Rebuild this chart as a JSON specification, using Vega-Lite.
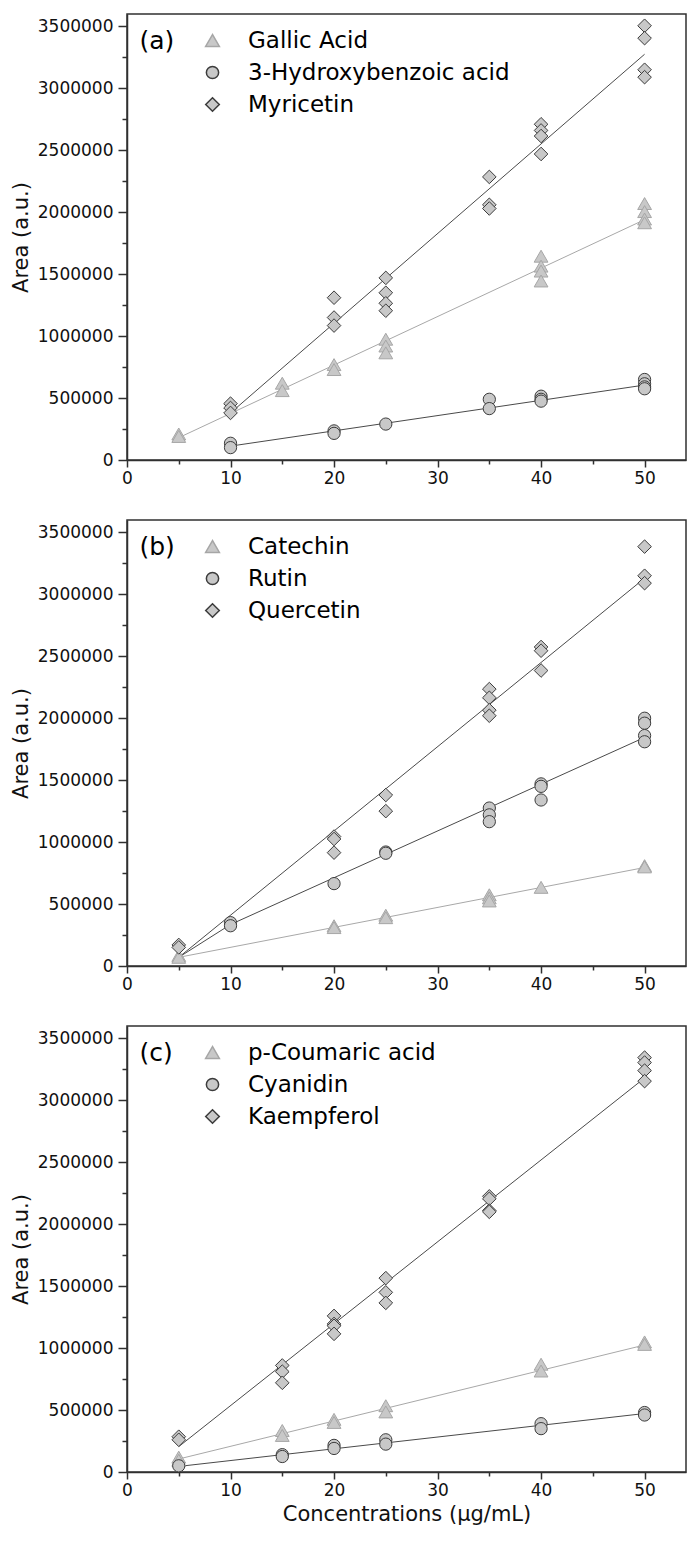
{
  "$schema": "https://vega.github.io/schema/vega-lite/v6.json",
  "padding": {"left": 9, "top": 13, "right": 0, "bottom": 5},
  "autosize": {"type": "pad"},
  "background": "white",
  "spacing": 60,
  "bounds": "flush",
  "config": {
    "font": "DejaVu Sans",
    "view": {"stroke": "#303030", "strokeWidth": 1.5},
    "axis": {"labelFont": "DejaVu Sans", "labelFontSize": 17, "labelColor": "#111111", "titleFont": "DejaVu Sans", "titleFontSize": 21, "titleFontWeight": "normal", "titleColor": "#111111", "domainColor": "#303030", "domainWidth": 1.5, "tickColor": "#303030", "tickWidth": 1.5, "grid": false, "labelFlush": false, "labelOverlap": false},
    "legend": {"labelFont": "DejaVu Sans", "labelFontSize": 23, "labelColor": "#000000", "labelLimit": 400, "padding": 0}
  },
  "datasets": {
    "pts": [
      {"panel": "a", "series": "Gallic Acid", "conc": 5, "area": 210000},
      {"panel": "a", "series": "Gallic Acid", "conc": 5, "area": 190000},
      {"panel": "a", "series": "Gallic Acid", "conc": 15, "area": 620000},
      {"panel": "a", "series": "Gallic Acid", "conc": 15, "area": 560000},
      {"panel": "a", "series": "Gallic Acid", "conc": 20, "area": 770000},
      {"panel": "a", "series": "Gallic Acid", "conc": 20, "area": 730000},
      {"panel": "a", "series": "Gallic Acid", "conc": 25, "area": 975000},
      {"panel": "a", "series": "Gallic Acid", "conc": 25, "area": 920000},
      {"panel": "a", "series": "Gallic Acid", "conc": 25, "area": 865000},
      {"panel": "a", "series": "Gallic Acid", "conc": 40, "area": 1645000},
      {"panel": "a", "series": "Gallic Acid", "conc": 40, "area": 1565000},
      {"panel": "a", "series": "Gallic Acid", "conc": 40, "area": 1525000},
      {"panel": "a", "series": "Gallic Acid", "conc": 40, "area": 1445000},
      {"panel": "a", "series": "Gallic Acid", "conc": 50, "area": 2070000},
      {"panel": "a", "series": "Gallic Acid", "conc": 50, "area": 2005000},
      {"panel": "a", "series": "Gallic Acid", "conc": 50, "area": 1945000},
      {"panel": "a", "series": "Gallic Acid", "conc": 50, "area": 1915000},
      {"panel": "a", "series": "3-Hydroxybenzoic acid", "conc": 10, "area": 135000},
      {"panel": "a", "series": "3-Hydroxybenzoic acid", "conc": 10, "area": 100000},
      {"panel": "a", "series": "3-Hydroxybenzoic acid", "conc": 20, "area": 235000},
      {"panel": "a", "series": "3-Hydroxybenzoic acid", "conc": 20, "area": 215000},
      {"panel": "a", "series": "3-Hydroxybenzoic acid", "conc": 25, "area": 290000},
      {"panel": "a", "series": "3-Hydroxybenzoic acid", "conc": 35, "area": 490000},
      {"panel": "a", "series": "3-Hydroxybenzoic acid", "conc": 35, "area": 415000},
      {"panel": "a", "series": "3-Hydroxybenzoic acid", "conc": 40, "area": 515000},
      {"panel": "a", "series": "3-Hydroxybenzoic acid", "conc": 40, "area": 490000},
      {"panel": "a", "series": "3-Hydroxybenzoic acid", "conc": 40, "area": 475000},
      {"panel": "a", "series": "3-Hydroxybenzoic acid", "conc": 50, "area": 650000},
      {"panel": "a", "series": "3-Hydroxybenzoic acid", "conc": 50, "area": 615000},
      {"panel": "a", "series": "3-Hydroxybenzoic acid", "conc": 50, "area": 590000},
      {"panel": "a", "series": "3-Hydroxybenzoic acid", "conc": 50, "area": 575000},
      {"panel": "a", "series": "Myricetin", "conc": 10, "area": 455000},
      {"panel": "a", "series": "Myricetin", "conc": 10, "area": 420000},
      {"panel": "a", "series": "Myricetin", "conc": 10, "area": 380000},
      {"panel": "a", "series": "Myricetin", "conc": 20, "area": 1310000},
      {"panel": "a", "series": "Myricetin", "conc": 20, "area": 1150000},
      {"panel": "a", "series": "Myricetin", "conc": 20, "area": 1085000},
      {"panel": "a", "series": "Myricetin", "conc": 25, "area": 1470000},
      {"panel": "a", "series": "Myricetin", "conc": 25, "area": 1350000},
      {"panel": "a", "series": "Myricetin", "conc": 25, "area": 1265000},
      {"panel": "a", "series": "Myricetin", "conc": 25, "area": 1205000},
      {"panel": "a", "series": "Myricetin", "conc": 35, "area": 2285000},
      {"panel": "a", "series": "Myricetin", "conc": 35, "area": 2060000},
      {"panel": "a", "series": "Myricetin", "conc": 35, "area": 2030000},
      {"panel": "a", "series": "Myricetin", "conc": 40, "area": 2710000},
      {"panel": "a", "series": "Myricetin", "conc": 40, "area": 2660000},
      {"panel": "a", "series": "Myricetin", "conc": 40, "area": 2615000},
      {"panel": "a", "series": "Myricetin", "conc": 40, "area": 2470000},
      {"panel": "a", "series": "Myricetin", "conc": 50, "area": 3505000},
      {"panel": "a", "series": "Myricetin", "conc": 50, "area": 3405000},
      {"panel": "a", "series": "Myricetin", "conc": 50, "area": 3150000},
      {"panel": "a", "series": "Myricetin", "conc": 50, "area": 3090000},
      {"panel": "b", "series": "Catechin", "conc": 5, "area": 85000},
      {"panel": "b", "series": "Catechin", "conc": 5, "area": 70000},
      {"panel": "b", "series": "Catechin", "conc": 20, "area": 325000},
      {"panel": "b", "series": "Catechin", "conc": 20, "area": 310000},
      {"panel": "b", "series": "Catechin", "conc": 25, "area": 410000},
      {"panel": "b", "series": "Catechin", "conc": 25, "area": 390000},
      {"panel": "b", "series": "Catechin", "conc": 35, "area": 575000},
      {"panel": "b", "series": "Catechin", "conc": 35, "area": 550000},
      {"panel": "b", "series": "Catechin", "conc": 35, "area": 525000},
      {"panel": "b", "series": "Catechin", "conc": 40, "area": 635000},
      {"panel": "b", "series": "Catechin", "conc": 50, "area": 810000},
      {"panel": "b", "series": "Catechin", "conc": 50, "area": 800000},
      {"panel": "b", "series": "Rutin", "conc": 10, "area": 350000},
      {"panel": "b", "series": "Rutin", "conc": 10, "area": 325000},
      {"panel": "b", "series": "Rutin", "conc": 20, "area": 665000},
      {"panel": "b", "series": "Rutin", "conc": 25, "area": 920000},
      {"panel": "b", "series": "Rutin", "conc": 25, "area": 910000},
      {"panel": "b", "series": "Rutin", "conc": 35, "area": 1275000},
      {"panel": "b", "series": "Rutin", "conc": 35, "area": 1220000},
      {"panel": "b", "series": "Rutin", "conc": 35, "area": 1165000},
      {"panel": "b", "series": "Rutin", "conc": 40, "area": 1470000},
      {"panel": "b", "series": "Rutin", "conc": 40, "area": 1450000},
      {"panel": "b", "series": "Rutin", "conc": 40, "area": 1340000},
      {"panel": "b", "series": "Rutin", "conc": 50, "area": 2000000},
      {"panel": "b", "series": "Rutin", "conc": 50, "area": 1960000},
      {"panel": "b", "series": "Rutin", "conc": 50, "area": 1860000},
      {"panel": "b", "series": "Rutin", "conc": 50, "area": 1810000},
      {"panel": "b", "series": "Quercetin", "conc": 5, "area": 170000},
      {"panel": "b", "series": "Quercetin", "conc": 5, "area": 150000},
      {"panel": "b", "series": "Quercetin", "conc": 20, "area": 1045000},
      {"panel": "b", "series": "Quercetin", "conc": 20, "area": 1025000},
      {"panel": "b", "series": "Quercetin", "conc": 20, "area": 915000},
      {"panel": "b", "series": "Quercetin", "conc": 25, "area": 1380000},
      {"panel": "b", "series": "Quercetin", "conc": 25, "area": 1250000},
      {"panel": "b", "series": "Quercetin", "conc": 35, "area": 2235000},
      {"panel": "b", "series": "Quercetin", "conc": 35, "area": 2165000},
      {"panel": "b", "series": "Quercetin", "conc": 35, "area": 2065000},
      {"panel": "b", "series": "Quercetin", "conc": 35, "area": 2020000},
      {"panel": "b", "series": "Quercetin", "conc": 40, "area": 2575000},
      {"panel": "b", "series": "Quercetin", "conc": 40, "area": 2545000},
      {"panel": "b", "series": "Quercetin", "conc": 40, "area": 2385000},
      {"panel": "b", "series": "Quercetin", "conc": 50, "area": 3385000},
      {"panel": "b", "series": "Quercetin", "conc": 50, "area": 3150000},
      {"panel": "b", "series": "Quercetin", "conc": 50, "area": 3090000},
      {"panel": "c", "series": "p-Coumaric acid", "conc": 5, "area": 120000},
      {"panel": "c", "series": "p-Coumaric acid", "conc": 5, "area": 95000},
      {"panel": "c", "series": "p-Coumaric acid", "conc": 15, "area": 335000},
      {"panel": "c", "series": "p-Coumaric acid", "conc": 15, "area": 295000},
      {"panel": "c", "series": "p-Coumaric acid", "conc": 20, "area": 425000},
      {"panel": "c", "series": "p-Coumaric acid", "conc": 20, "area": 400000},
      {"panel": "c", "series": "p-Coumaric acid", "conc": 25, "area": 535000},
      {"panel": "c", "series": "p-Coumaric acid", "conc": 25, "area": 485000},
      {"panel": "c", "series": "p-Coumaric acid", "conc": 40, "area": 870000},
      {"panel": "c", "series": "p-Coumaric acid", "conc": 40, "area": 815000},
      {"panel": "c", "series": "p-Coumaric acid", "conc": 50, "area": 1050000},
      {"panel": "c", "series": "p-Coumaric acid", "conc": 50, "area": 1030000},
      {"panel": "c", "series": "Cyanidin", "conc": 5, "area": 50000},
      {"panel": "c", "series": "Cyanidin", "conc": 15, "area": 140000},
      {"panel": "c", "series": "Cyanidin", "conc": 15, "area": 125000},
      {"panel": "c", "series": "Cyanidin", "conc": 20, "area": 215000},
      {"panel": "c", "series": "Cyanidin", "conc": 20, "area": 190000},
      {"panel": "c", "series": "Cyanidin", "conc": 25, "area": 260000},
      {"panel": "c", "series": "Cyanidin", "conc": 25, "area": 225000},
      {"panel": "c", "series": "Cyanidin", "conc": 40, "area": 390000},
      {"panel": "c", "series": "Cyanidin", "conc": 40, "area": 350000},
      {"panel": "c", "series": "Cyanidin", "conc": 50, "area": 480000},
      {"panel": "c", "series": "Cyanidin", "conc": 50, "area": 460000},
      {"panel": "c", "series": "Kaempferol", "conc": 5, "area": 285000},
      {"panel": "c", "series": "Kaempferol", "conc": 5, "area": 260000},
      {"panel": "c", "series": "Kaempferol", "conc": 15, "area": 860000},
      {"panel": "c", "series": "Kaempferol", "conc": 15, "area": 810000},
      {"panel": "c", "series": "Kaempferol", "conc": 15, "area": 720000},
      {"panel": "c", "series": "Kaempferol", "conc": 20, "area": 1260000},
      {"panel": "c", "series": "Kaempferol", "conc": 20, "area": 1195000},
      {"panel": "c", "series": "Kaempferol", "conc": 20, "area": 1180000},
      {"panel": "c", "series": "Kaempferol", "conc": 20, "area": 1115000},
      {"panel": "c", "series": "Kaempferol", "conc": 25, "area": 1565000},
      {"panel": "c", "series": "Kaempferol", "conc": 25, "area": 1450000},
      {"panel": "c", "series": "Kaempferol", "conc": 25, "area": 1365000},
      {"panel": "c", "series": "Kaempferol", "conc": 35, "area": 2225000},
      {"panel": "c", "series": "Kaempferol", "conc": 35, "area": 2205000},
      {"panel": "c", "series": "Kaempferol", "conc": 35, "area": 2110000},
      {"panel": "c", "series": "Kaempferol", "conc": 35, "area": 2100000},
      {"panel": "c", "series": "Kaempferol", "conc": 50, "area": 3345000},
      {"panel": "c", "series": "Kaempferol", "conc": 50, "area": 3305000},
      {"panel": "c", "series": "Kaempferol", "conc": 50, "area": 3240000},
      {"panel": "c", "series": "Kaempferol", "conc": 50, "area": 3155000}
    ],
    "fits": [
      {"panel": "a", "series": "Gallic Acid", "conc": 5, "area": 180000},
      {"panel": "a", "series": "Gallic Acid", "conc": 50, "area": 1940000},
      {"panel": "a", "series": "3-Hydroxybenzoic acid", "conc": 10, "area": 112000},
      {"panel": "a", "series": "3-Hydroxybenzoic acid", "conc": 50, "area": 605000},
      {"panel": "a", "series": "Myricetin", "conc": 10, "area": 380000},
      {"panel": "a", "series": "Myricetin", "conc": 50, "area": 3275000},
      {"panel": "b", "series": "Catechin", "conc": 5, "area": 70000},
      {"panel": "b", "series": "Catechin", "conc": 50, "area": 795000},
      {"panel": "b", "series": "Rutin", "conc": 5, "area": 70000},
      {"panel": "b", "series": "Rutin", "conc": 10, "area": 335000},
      {"panel": "b", "series": "Rutin", "conc": 50, "area": 1845000},
      {"panel": "b", "series": "Quercetin", "conc": 5, "area": 70000},
      {"panel": "b", "series": "Quercetin", "conc": 50, "area": 3130000},
      {"panel": "c", "series": "p-Coumaric acid", "conc": 5, "area": 105000},
      {"panel": "c", "series": "p-Coumaric acid", "conc": 50, "area": 1025000},
      {"panel": "c", "series": "Cyanidin", "conc": 5, "area": 45000},
      {"panel": "c", "series": "Cyanidin", "conc": 50, "area": 472000},
      {"panel": "c", "series": "Kaempferol", "conc": 5, "area": 205000},
      {"panel": "c", "series": "Kaempferol", "conc": 50, "area": 3180000}
    ]
  },
  "vconcat": [
    {
      "width": 559, "height": 446,
      "layer": [
        {
          "data": {"name": "fits"},
          "transform": [{"filter": "datum.panel === 'a' && datum.series === 'Gallic Acid'"}],
          "mark": {"type": "line", "stroke": "#a8a8a8", "strokeWidth": 1},
          "encoding": {
            "x": {"field": "conc", "type": "quantitative", "scale": {"domain": [0, 54], "nice": false, "zero": false}, "axis": {"orient": "bottom", "values": [5, 15, 25, 35, 45], "tickSize": 4, "labels": false, "domain": false, "title": null}},
            "y": {"field": "area", "type": "quantitative", "scale": {"domain": [0, 3600000], "nice": false}, "axis": {"orient": "left", "values": [250000, 750000, 1250000, 1750000, 2250000, 2750000, 3250000], "tickSize": 5, "labels": false, "domain": false, "title": null}}
          }
        },
        {
          "data": {"name": "fits"},
          "transform": [{"filter": "datum.panel === 'a' && datum.series !== 'Gallic Acid'"}],
          "mark": {"type": "line", "stroke": "#4a4a4a", "strokeWidth": 1},
          "encoding": {
            "x": {"field": "conc", "type": "quantitative", "axis": null},
            "y": {"field": "area", "type": "quantitative", "axis": null},
            "detail": {"field": "series"}
          }
        },
        {
          "data": {"name": "pts"},
          "transform": [{"filter": "datum.panel === 'a'"}],
          "mark": {"type": "point", "filled": false, "fill": "#c8c8c8", "fillOpacity": 1, "opacity": 1, "strokeWidth": 1},
          "encoding": {
            "x": {"field": "conc", "type": "quantitative", "axis": {"orient": "bottom", "values": [0, 10, 20, 30, 40, 50], "tickSize": 7, "labelPadding": 3, "title": null}},
            "y": {"field": "area", "type": "quantitative", "axis": {"orient": "left", "values": [0, 500000, 1000000, 1500000, 2000000, 2500000, 3000000, 3500000], "format": "d", "tickSize": 9, "labelPadding": 5, "title": "Area (a.u.)", "titlePadding": 6}},
            "shape": {"field": "series", "type": "nominal", "scale": {"domain": ["Gallic Acid", "3-Hydroxybenzoic acid", "Myricetin"], "range": ["triangle-up", "circle", "diamond"]}, "legend": {"title": null, "orient": "none", "legendX": 74, "legendY": 15, "labelOffset": 24, "rowPadding": 8}},
            "stroke": {"field": "series", "type": "nominal", "scale": {"domain": ["Gallic Acid", "3-Hydroxybenzoic acid", "Myricetin"], "range": ["#a6a6a6", "#3c3c3c", "#3c3c3c"]}, "legend": {"title": null, "orient": "none", "legendX": 74, "legendY": 15, "labelOffset": 24, "rowPadding": 8}},
            "size": {"field": "series", "type": "nominal", "scale": {"type": "ordinal", "domain": ["Gallic Acid", "3-Hydroxybenzoic acid", "Myricetin"], "range": [190, 150, 185]}, "legend": {"title": null, "orient": "none", "legendX": 74, "legendY": 15, "labelOffset": 24, "rowPadding": 8}}
          }
        },
        {
          "data": {"values": [{"label": "(a)"}]},
          "mark": {"type": "text", "align": "left", "baseline": "middle", "fontSize": 25, "font": "DejaVu Sans", "color": "#000000"},
          "encoding": {
            "x": {"datum": 1.2, "type": "quantitative", "axis": null},
            "y": {"datum": 3380000, "type": "quantitative", "axis": null},
            "text": {"field": "label"}
          }
        }
      ],
      "resolve": {"axis": {"x": "independent", "y": "independent"}}
    },
    {
      "width": 559, "height": 446,
      "layer": [
        {
          "data": {"name": "fits"},
          "transform": [{"filter": "datum.panel === 'b' && datum.series === 'Catechin'"}],
          "mark": {"type": "line", "stroke": "#a8a8a8", "strokeWidth": 1},
          "encoding": {
            "x": {"field": "conc", "type": "quantitative", "scale": {"domain": [0, 54], "nice": false, "zero": false}, "axis": {"orient": "bottom", "values": [5, 15, 25, 35, 45], "tickSize": 4, "labels": false, "domain": false, "title": null}},
            "y": {"field": "area", "type": "quantitative", "scale": {"domain": [0, 3600000], "nice": false}, "axis": {"orient": "left", "values": [250000, 750000, 1250000, 1750000, 2250000, 2750000, 3250000], "tickSize": 5, "labels": false, "domain": false, "title": null}}
          }
        },
        {
          "data": {"name": "fits"},
          "transform": [{"filter": "datum.panel === 'b' && datum.series !== 'Catechin'"}],
          "mark": {"type": "line", "stroke": "#4a4a4a", "strokeWidth": 1},
          "encoding": {
            "x": {"field": "conc", "type": "quantitative", "axis": null},
            "y": {"field": "area", "type": "quantitative", "axis": null},
            "detail": {"field": "series"}
          }
        },
        {
          "data": {"name": "pts"},
          "transform": [{"filter": "datum.panel === 'b'"}],
          "mark": {"type": "point", "filled": false, "fill": "#c8c8c8", "fillOpacity": 1, "opacity": 1, "strokeWidth": 1},
          "encoding": {
            "x": {"field": "conc", "type": "quantitative", "axis": {"orient": "bottom", "values": [0, 10, 20, 30, 40, 50], "tickSize": 7, "labelPadding": 3, "title": null}},
            "y": {"field": "area", "type": "quantitative", "axis": {"orient": "left", "values": [0, 500000, 1000000, 1500000, 2000000, 2500000, 3000000, 3500000], "format": "d", "tickSize": 9, "labelPadding": 5, "title": "Area (a.u.)", "titlePadding": 6}},
            "shape": {"field": "series", "type": "nominal", "scale": {"domain": ["Catechin", "Rutin", "Quercetin"], "range": ["triangle-up", "circle", "diamond"]}, "legend": {"title": null, "orient": "none", "legendX": 74, "legendY": 15, "labelOffset": 24, "rowPadding": 8}},
            "stroke": {"field": "series", "type": "nominal", "scale": {"domain": ["Catechin", "Rutin", "Quercetin"], "range": ["#a6a6a6", "#3c3c3c", "#3c3c3c"]}, "legend": {"title": null, "orient": "none", "legendX": 74, "legendY": 15, "labelOffset": 24, "rowPadding": 8}},
            "size": {"field": "series", "type": "nominal", "scale": {"type": "ordinal", "domain": ["Catechin", "Rutin", "Quercetin"], "range": [190, 150, 185]}, "legend": {"title": null, "orient": "none", "legendX": 74, "legendY": 15, "labelOffset": 24, "rowPadding": 8}}
          }
        },
        {
          "data": {"values": [{"label": "(b)"}]},
          "mark": {"type": "text", "align": "left", "baseline": "middle", "fontSize": 25, "font": "DejaVu Sans", "color": "#000000"},
          "encoding": {
            "x": {"datum": 1.2, "type": "quantitative", "axis": null},
            "y": {"datum": 3380000, "type": "quantitative", "axis": null},
            "text": {"field": "label"}
          }
        }
      ],
      "resolve": {"axis": {"x": "independent", "y": "independent"}}
    },
    {
      "width": 559, "height": 446,
      "layer": [
        {
          "data": {"name": "fits"},
          "transform": [{"filter": "datum.panel === 'c' && datum.series === 'p-Coumaric acid'"}],
          "mark": {"type": "line", "stroke": "#a8a8a8", "strokeWidth": 1},
          "encoding": {
            "x": {"field": "conc", "type": "quantitative", "scale": {"domain": [0, 54], "nice": false, "zero": false}, "axis": {"orient": "bottom", "values": [5, 15, 25, 35, 45], "tickSize": 4, "labels": false, "domain": false, "title": null}},
            "y": {"field": "area", "type": "quantitative", "scale": {"domain": [0, 3600000], "nice": false}, "axis": {"orient": "left", "values": [250000, 750000, 1250000, 1750000, 2250000, 2750000, 3250000], "tickSize": 5, "labels": false, "domain": false, "title": null}}
          }
        },
        {
          "data": {"name": "fits"},
          "transform": [{"filter": "datum.panel === 'c' && datum.series !== 'p-Coumaric acid'"}],
          "mark": {"type": "line", "stroke": "#4a4a4a", "strokeWidth": 1},
          "encoding": {
            "x": {"field": "conc", "type": "quantitative", "axis": null},
            "y": {"field": "area", "type": "quantitative", "axis": null},
            "detail": {"field": "series"}
          }
        },
        {
          "data": {"name": "pts"},
          "transform": [{"filter": "datum.panel === 'c'"}],
          "mark": {"type": "point", "filled": false, "fill": "#c8c8c8", "fillOpacity": 1, "opacity": 1, "strokeWidth": 1},
          "encoding": {
            "x": {"field": "conc", "type": "quantitative", "axis": {"orient": "bottom", "values": [0, 10, 20, 30, 40, 50], "tickSize": 7, "labelPadding": 3, "title": "Concentrations (µg/mL)", "titlePadding": 5}},
            "y": {"field": "area", "type": "quantitative", "axis": {"orient": "left", "values": [0, 500000, 1000000, 1500000, 2000000, 2500000, 3000000, 3500000], "format": "d", "tickSize": 9, "labelPadding": 5, "title": "Area (a.u.)", "titlePadding": 6}},
            "shape": {"field": "series", "type": "nominal", "scale": {"domain": ["p-Coumaric acid", "Cyanidin", "Kaempferol"], "range": ["triangle-up", "circle", "diamond"]}, "legend": {"title": null, "orient": "none", "legendX": 74, "legendY": 15, "labelOffset": 24, "rowPadding": 8}},
            "stroke": {"field": "series", "type": "nominal", "scale": {"domain": ["p-Coumaric acid", "Cyanidin", "Kaempferol"], "range": ["#a6a6a6", "#3c3c3c", "#3c3c3c"]}, "legend": {"title": null, "orient": "none", "legendX": 74, "legendY": 15, "labelOffset": 24, "rowPadding": 8}},
            "size": {"field": "series", "type": "nominal", "scale": {"type": "ordinal", "domain": ["p-Coumaric acid", "Cyanidin", "Kaempferol"], "range": [190, 150, 185]}, "legend": {"title": null, "orient": "none", "legendX": 74, "legendY": 15, "labelOffset": 24, "rowPadding": 8}}
          }
        },
        {
          "data": {"values": [{"label": "(c)"}]},
          "mark": {"type": "text", "align": "left", "baseline": "middle", "fontSize": 25, "font": "DejaVu Sans", "color": "#000000"},
          "encoding": {
            "x": {"datum": 1.2, "type": "quantitative", "axis": null},
            "y": {"datum": 3380000, "type": "quantitative", "axis": null},
            "text": {"field": "label"}
          }
        }
      ],
      "resolve": {"axis": {"x": "independent", "y": "independent"}}
    }
  ],
  "resolve": {
    "scale": {"shape": "independent", "stroke": "independent", "size": "independent"},
    "legend": {"shape": "independent", "stroke": "independent", "size": "independent"}
  }
}
